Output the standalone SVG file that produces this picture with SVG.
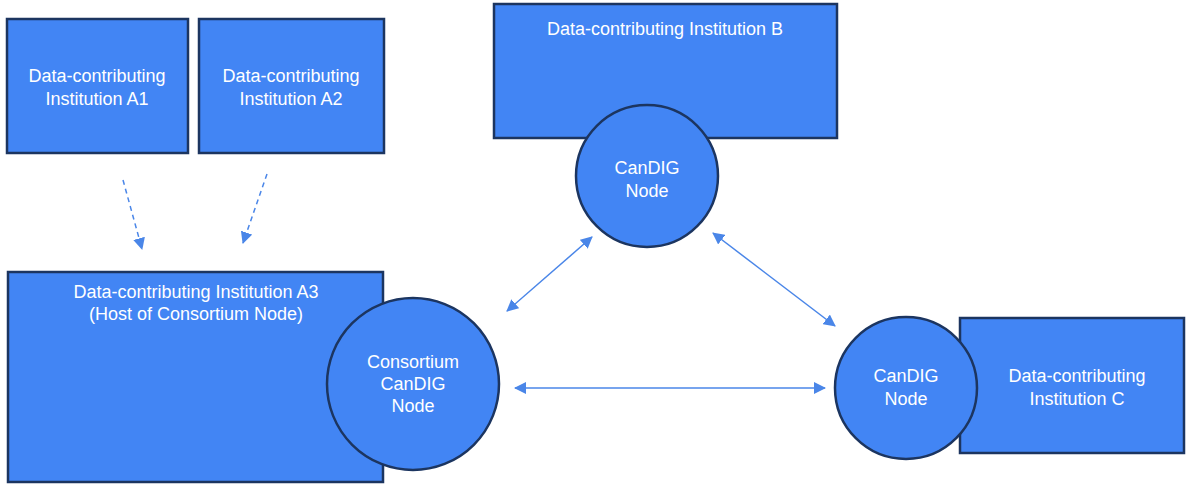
<svg xmlns="http://www.w3.org/2000/svg" width="1186" height="484" viewBox="0 0 1186 484">
<style>
.box{fill:#4285f4;stroke:#1c3560;stroke-width:2.5}
.node{fill:#4285f4;stroke:#1c3560;stroke-width:2.5}
.t{font-family:"Liberation Sans",Arial,sans-serif;font-size:18px;fill:#ffffff;text-anchor:middle}
.c{stroke:#4a86e8;stroke-width:1.5;fill:none}
.d{stroke-dasharray:5 4}
</style>
<defs>
<marker id="ah" viewBox="0 0 12 12" refX="11" refY="6" markerWidth="12" markerHeight="12" markerUnits="userSpaceOnUse" orient="auto-start-reverse">
<path d="M0,0 L12,6 L0,12 Z" fill="#4a86e8"/>
</marker>
</defs>
<rect width="1186" height="484" fill="#ffffff"/>
<g id="A1">
<rect class="box" x="7" y="19" width="181" height="134"/>
<text class="t" x="97" y="82">Data-contributing</text>
<text class="t" x="97" y="105">Institution A1</text>
</g>
<g id="A2">
<rect class="box" x="199" y="19" width="185" height="134"/>
<text class="t" x="291" y="82">Data-contributing</text>
<text class="t" x="291" y="105">Institution A2</text>
</g>
<g id="B">
<rect class="box" x="494" y="4" width="343" height="134"/>
<text class="t" x="665" y="35">Data-contributing Institution B</text>
</g>
<g id="B-node">
<circle class="node" cx="647" cy="176" r="71"/>
<text class="t" x="647" y="174">CanDIG</text>
<text class="t" x="647" y="197">Node</text>
</g>
<g id="A3">
<rect class="box" x="8" y="272" width="375" height="210"/>
<text class="t" x="196" y="298">Data-contributing Institution A3</text>
<text class="t" x="196" y="320">(Host of Consortium Node)</text>
</g>
<g id="consortium-node">
<circle class="node" cx="413" cy="384" r="86"/>
<text class="t" x="413" y="368">Consortium</text>
<text class="t" x="413" y="390">CanDIG</text>
<text class="t" x="413" y="412">Node</text>
</g>
<g id="C">
<rect class="box" x="960" y="318" width="224" height="135"/>
<text class="t" x="1077" y="382">Data-contributing</text>
<text class="t" x="1077" y="405">Institution C</text>
</g>
<g id="C-node">
<circle class="node" cx="906" cy="388" r="71"/>
<text class="t" x="906" y="382">CanDIG</text>
<text class="t" x="906" y="405">Node</text>
</g>
<g id="connectors">
<line class="c d" x1="123" y1="180" x2="142" y2="249" marker-end="url(#ah)"/>
<line class="c d" x1="267" y1="174" x2="243" y2="243" marker-end="url(#ah)"/>
<line class="c" x1="507" y1="311" x2="592" y2="237" marker-start="url(#ah)" marker-end="url(#ah)"/>
<line class="c" x1="713" y1="233" x2="835" y2="326" marker-start="url(#ah)" marker-end="url(#ah)"/>
<line class="c" x1="515" y1="388" x2="825" y2="388" marker-start="url(#ah)" marker-end="url(#ah)"/>
</g>
</svg>
